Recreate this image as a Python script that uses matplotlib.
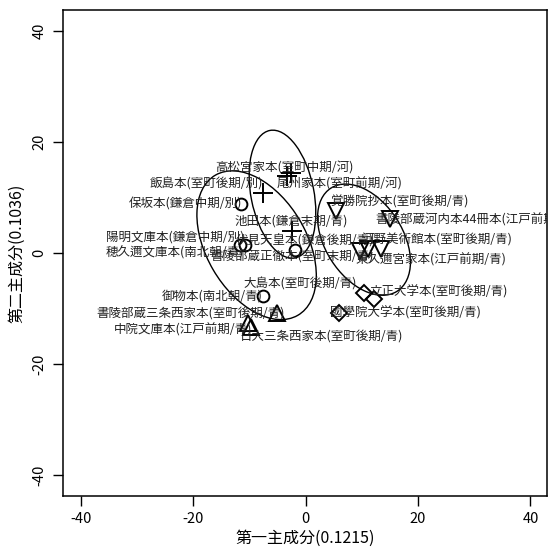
import matplotlib
matplotlib.use('Agg')
import matplotlib.pyplot as plt
from matplotlib.patches import Ellipse

plt.rcParams['font.family'] = ['Noto Sans CJK JP', 'DejaVu Sans']
plt.rcParams['axes.unicode_minus'] = False

# --- dados: marcadores por grupo (x = 第一主成分, y = 第二主成分) ---
plus_x = [-3.3, -2.6, -7.6, -2.4]
plus_y = [13.9, 14.4, 10.8, 4.0]

circ_x = [-11.5, -11.7, -10.8, -1.9, -7.6]
circ_y = [8.8, 1.4, 1.4, 0.5, -7.7]

tdown_x = [5.4, 15.0, 9.7, 11.1, 13.4]
tdown_y = [7.6, 6.1, 0.4, 0.7, 0.7]

tup_x = [-5.1, -10.3, -9.7]
tup_y = [-10.8, -12.6, -13.3]

diam_x = [10.4, 12.1, 5.9]
diam_y = [-7.2, -8.3, -10.8]

# rótulos dos manuscritos
nomes = [
    '高松宮家本(室町中期/河)', '尾州家本(室町前期/河)', '飯島本(室町後期/別)',
    '保坂本(鎌倉中期/別)', '池田本(鎌倉末期/青)', '覚勝院抄本(室町後期/青)',
    '書陵部蔵河内本44冊本(江戸前期/青)', '陽明文庫本(鎌倉中期/別)',
    '伏見天皇本(鎌倉後期/青)', '河野美術館本(室町後期/青)',
    '穂久邇文庫本(南北朝/青)', '書陵部蔵正徹本(室町末期/青)',
    '東久邇宮家本(江戸前期/青)', '大島本(室町後期/青)', '御物本(南北朝/青)',
    '立正大学本(室町後期/青)', '書陵部蔵三条西家本(室町後期/青)',
    '國學院大学本(室町後期/青)', '中院文庫本(江戸前期/青)',
    '日大三条西家本(室町後期/青)',
]
nome_x = [-3.7, 6.1, -17.7, -21.3, -2.6, 16.8, 30.5, -23.2, -0.1, 23.3,
          -23.2, -2.4, 22.3, -1.0, -16.6, 23.7, -20.5, 17.7, -21.8, 2.9]
nome_y = [15.3, 12.4, 12.4, 8.8, 5.8, 9.2, 5.95, 2.9, 2.2, 2.3,
          0.0, -0.5, -1.3, -5.6, -7.7, -7.0, -10.8, -10.8, -13.9, -15.0]

# elipses dos grupos: centro, largura, altura, ângulo
elip_cx = [-4.1, -8.7, 10.4]
elip_cy = [10.6, 1.4, 2.4]
elip_w = [23.4, 29.2, 22.0]
elip_h = [11.2, 17.8, 13.8]
elip_ang = [101, 120, 122]

fig = plt.figure(figsize=(5.49, 5.53), dpi=100)
ax = fig.add_axes([0.114, 0.103, 0.883, 0.879])

kw = dict(linestyle='none', color='black', mfc='none', mew=1.4)
ax.plot(plus_x, plus_y, marker='+', markersize=14, **kw)
ax.plot(circ_x, circ_y, marker='o', markersize=8.5, **kw)
ax.plot(tdown_x, tdown_y, marker='v', markersize=11, **kw)
ax.plot(tup_x, tup_y, marker='^', markersize=11, **kw)
ax.plot(diam_x, diam_y, marker='D', markersize=8, **kw)

for cx, cy, w, h, a in zip(elip_cx, elip_cy, elip_w, elip_h, elip_ang):
    ax.add_patch(Ellipse((cx, cy), w, h, angle=a, fill=False,
                         edgecolor='black', linewidth=1.0))

for n, x, y in zip(nomes, nome_x, nome_y):
    ax.text(x, y, n, ha='center', va='center', fontsize=9,
            color='#222222', clip_on=True)

ax.set_xlim(-43.2, 43.0)
ax.set_ylim(-43.8, 43.8)
ax.set_xticks([-40, -20, 0, 20, 40])
ax.set_yticks([-40, -20, 0, 20, 40])
ax.tick_params(direction='out', length=7.5, width=1, labelsize=10.5, pad=4)
for lab in ax.get_yticklabels():
    lab.set_rotation(90)
    lab.set_va('center')
for s in ax.spines.values():
    s.set_linewidth(1.1)

ax.set_xlabel('第一主成分(0.1215)', fontsize=11.5, labelpad=3)
ax.set_ylabel('第二主成分(0.1036)', fontsize=11.5, labelpad=5)

fig.savefig('out.png', dpi=100)
